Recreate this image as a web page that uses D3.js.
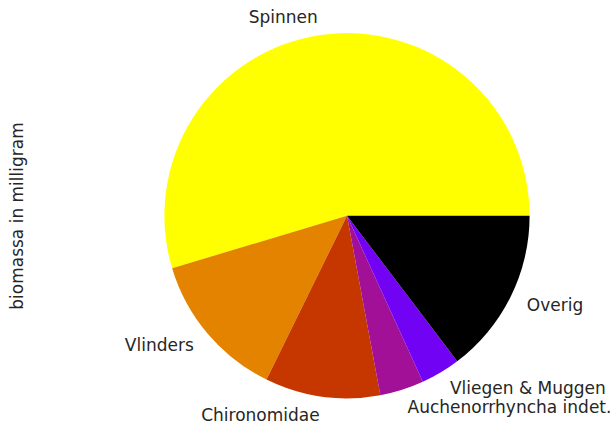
<!DOCTYPE html>
<html>
<head>
<meta charset="utf-8">
<script src="https://cdn.jsdelivr.net/npm/d3@7"></script>
<style>
  body { margin: 0; background: #fff; }
  text { font-family: "DejaVu Sans", sans-serif; fill: #262626; }
</style>
</head>
<body>
<div id="chart"></div>
<script>
// biomass per group (mg)
var categories = ["Spinnen", "Vlinders", "Chironomidae", "Auchenorrhyncha indet.", "Vliegen & Muggen", "Overig"];
var values = [547, 131, 102, 39, 35, 147];
var yLabel = "biomassa in milligram";

var width = 616, height = 430;
var cx = 347, cy = 215.7, radius = 182.6;
var fontSize = 17;

// matplotlib "gnuplot" colormap, sampled from 1 down to 0
function gnuplot(x) {
  var r = Math.sqrt(x), g = Math.pow(x, 3), b = Math.max(0, Math.sin(2 * Math.PI * x));
  return d3.rgb(Math.round(r * 255), Math.round(g * 255), Math.round(b * 255)).toString();
}
var colors = categories.map(function(d, i) { return gnuplot(1 - i / (categories.length - 1)); });

var svg = d3.select("#chart").append("svg")
            .attr("width", width)
            .attr("height", height);

// matplotlib starts at 3 o'clock and goes counter-clockwise
var pie = d3.pie()
            .sort(null)
            .startAngle(Math.PI / 2)
            .endAngle(Math.PI / 2 - 2 * Math.PI);

var arcs = pie(values);
var arc = d3.arc().innerRadius(0).outerRadius(radius);

var g = svg.append("g").attr("transform", "translate(" + cx + "," + cy + ")");

g.selectAll("path")
 .data(arcs)
 .enter().append("path")
 .attr("d", arc)
 .attr("fill", function(d, i) { return colors[i]; });

// labels at 1.1 * r, left/right aligned like matplotlib
g.selectAll("text.label")
 .data(arcs)
 .enter().append("text")
 .attr("class", "label")
 .each(function(d, i) {
   var a = (d.startAngle + d.endAngle) / 2;
   var x = 1.1 * radius * Math.sin(a);
   var y = -1.1 * radius * Math.cos(a);
   d3.select(this)
     .attr("x", x)
     .attr("y", y)
     .attr("dy", "0.35em")
     .attr("text-anchor", x > 0 ? "start" : "end")
     .style("font-size", fontSize + "px")
     .text(categories[i]);
 });

svg.append("text")
   .attr("transform", "translate(17,216) rotate(-90)")
   .attr("text-anchor", "middle")
   .attr("dy", "0.35em")
   .style("font-size", fontSize + "px")
   .text(yLabel);
</script>
</body>
</html>
